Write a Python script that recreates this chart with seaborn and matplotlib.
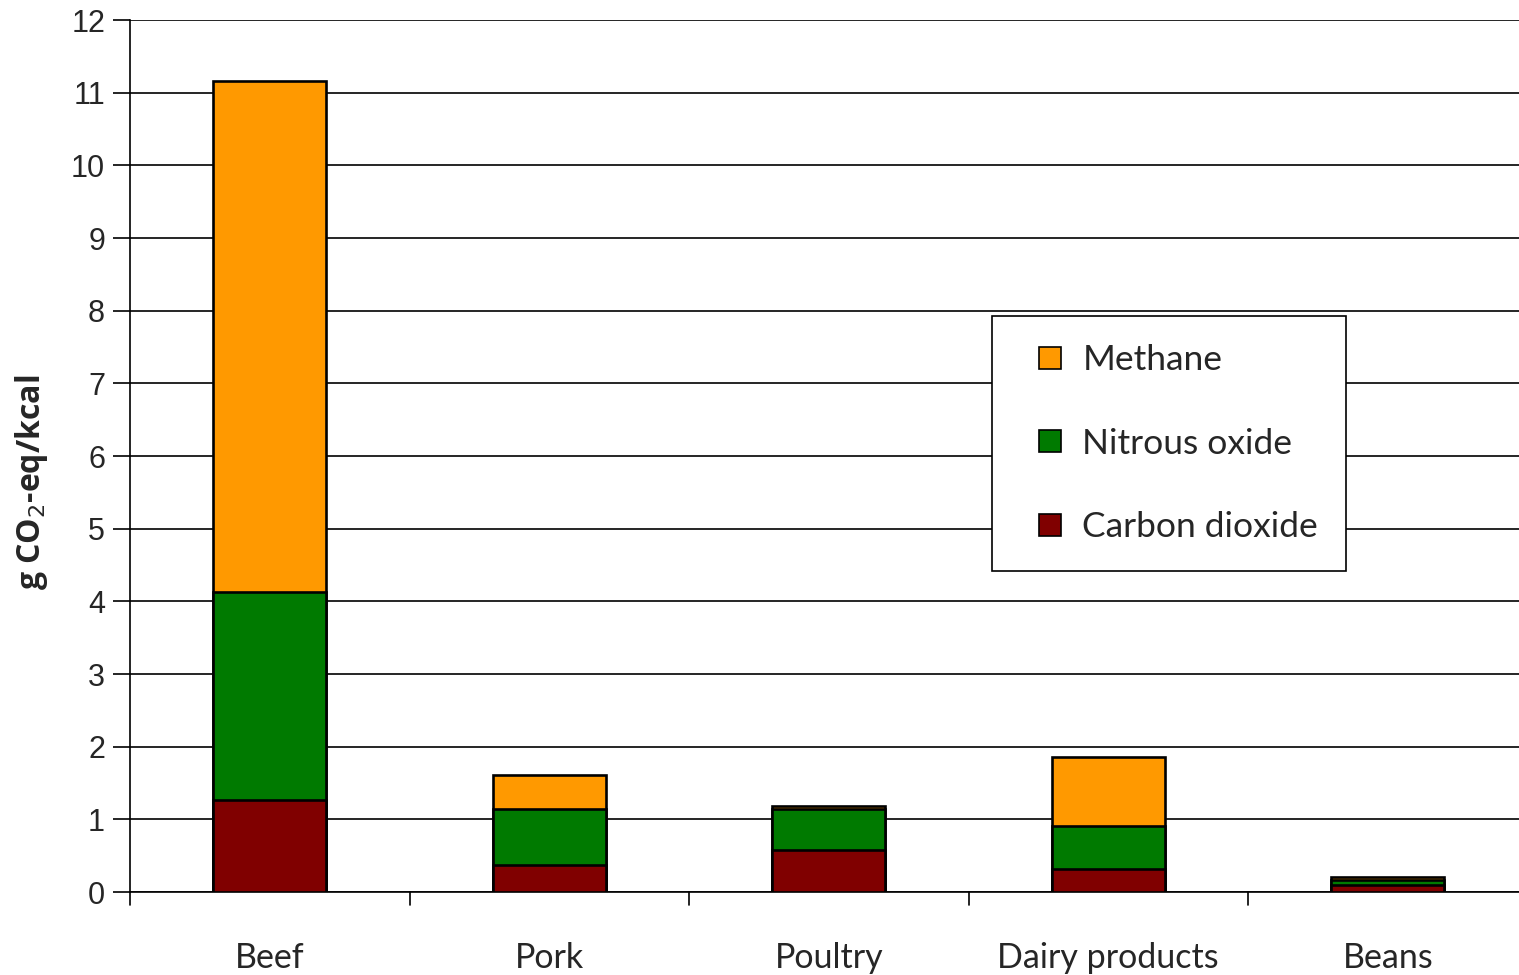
import matplotlib
matplotlib.use("Agg")
import matplotlib.pyplot as plt
import seaborn as sns
import numpy as np
import pandas as pd
from matplotlib.lines import Line2D

# Greenhouse gas emissions per kcal, by food type
foods = ["Beef", "Pork", "Poultry", "Dairy products", "Beans"]
carbon_dioxide = [1.27, 0.37, 0.58, 0.32, 0.10]
nitrous_oxide = [2.86, 0.77, 0.56, 0.59, 0.06]
methane = [7.03, 0.47, 0.04, 0.95, 0.04]

gas_names = ["Methane", "Nitrous oxide", "Carbon dioxide"]
gas_colors = {"Methane": "#FF9900", "Nitrous oxide": "#007A00", "Carbon dioxide": "#800000"}

sns.set_theme(style="white")
plt.rcParams["font.family"] = ["Liberation Sans", "DejaVu Sans"]

co2 = np.array(carbon_dioxide)
n2o_top = co2 + np.array(nitrous_oxide)
total = n2o_top + np.array(methane)

df = pd.DataFrame({"food": foods, "co2": co2, "n2o": n2o_top, "total": total})

W, H = 1519, 975
fig = plt.figure(figsize=(W / 100, H / 100), dpi=100)
# The category axis runs a little past the right edge of the figure
ax = fig.add_axes([130 / W, 1 - 892 / H, 1397.5 / W, (892 - 20) / H])

# Horizontal grid behind the bars
ax.set_axisbelow(True)
ax.yaxis.grid(True, color="black", linewidth=1.2)
ax.xaxis.grid(False)

bw = 0.405
for col, gas in [("total", "Methane"), ("n2o", "Nitrous oxide"), ("co2", "Carbon dioxide")]:
    sns.barplot(data=df, x="food", y=col, color=gas_colors[gas], saturation=1,
                width=bw, edgecolor="black", linewidth=1.9, ax=ax, zorder=3)

ax.set_ylim(0, 12)
ax.set_xlim(-0.5, 4.5)
ax.set_yticks(range(0, 13))
ax.set_yticklabels([str(v) for v in range(0, 13)], fontsize=22)

# Category labels centred, tick marks at category boundaries
ax.set_xticks(range(len(foods)))
ax.set_xticklabels(foods, fontsize=24.5, family=["Lato", "DejaVu Sans"])
ax.tick_params(axis="x", length=0, pad=36)
for b in np.arange(-0.5, 4.0, 1.0):
    ax.plot([b, b], [0, -0.18], color="black", linewidth=1.2, clip_on=False, zorder=4)

ax.tick_params(axis="y", length=12, width=1.2, direction="out", left=True, color="black", pad=6)
ax.set_xlabel("")
ax.set_ylabel("g CO$_2$-eq/kcal", fontsize=23, fontweight="bold",
              family=["Open Sans", "DejaVu Sans"])
ax.yaxis.set_label_coords(-0.057, 0.47)

for side in ["top", "right"]:
    ax.spines[side].set_visible(False)
for side in ["left", "bottom"]:
    ax.spines[side].set_color("black")
    ax.spines[side].set_linewidth(1.2)

handles = [Line2D([], [], linestyle="none", marker="s", markersize=16.5,
                  markerfacecolor=gas_colors[g], markeredgecolor="black",
                  markeredgewidth=1.2) for g in gas_names]
leg = fig.legend(handles, gas_names, loc="upper left",
                 bbox_to_anchor=(992 / W, 1 - 316 / H),
                 frameon=True, fancybox=False, edgecolor="black",
                 prop={"family": ["Lato", "DejaVu Sans"], "size": 25.5},
                 handlelength=1.7, handletextpad=0.05,
                 labelspacing=1.45, borderpad=0.8, borderaxespad=0)
leg.get_frame().set_linewidth(1.2)
leg.get_frame().set_facecolor("white")
leg.get_frame().set_alpha(1)
leg.set_zorder(10)

fig.savefig("out.png", dpi=100, facecolor="white")
